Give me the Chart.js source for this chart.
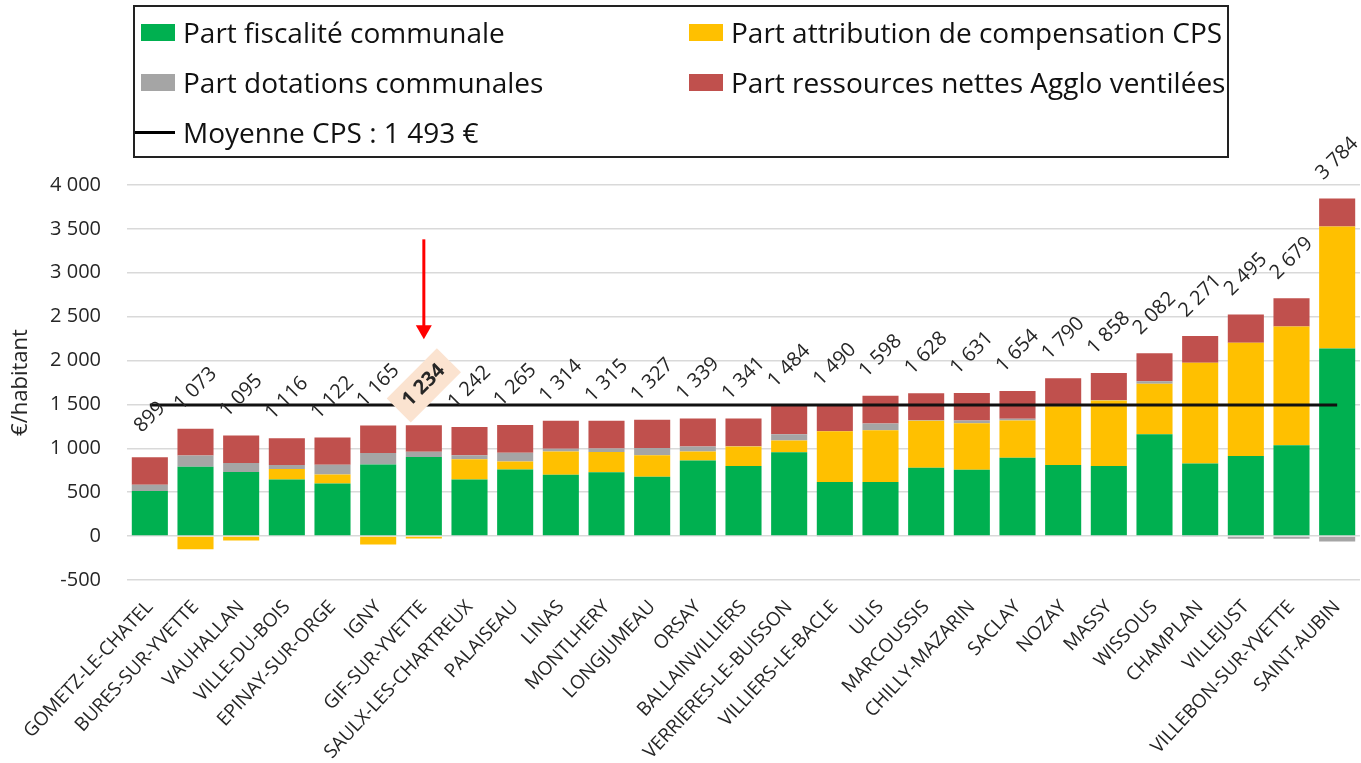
<!DOCTYPE html>
<html>
<head>
<meta charset="utf-8">
<script src="https://cdn.jsdelivr.net/npm/chart.js@4"></script>
<style>
  body { margin: 0; background: #fff; }
  #cadre { position: relative; width: 1361px; height: 763px; }
  #cadre canvas { position: absolute; left: 0; top: 0; }
  #legende {
    position: absolute; left: 133px; top: 5px; width: 1092px; height: 149px;
    border: 2px solid #222; box-sizing: content-box;
    display: grid; grid-template-columns: 548px 544px; grid-auto-rows: 50px;
    padding-top: 0; font-family: "Open Sans", sans-serif; font-size: 28px; color: #111;
  }
  #legende .item { display: flex; align-items: center; padding-left: 6px; white-space: nowrap; }
  #legende .carre { width: 34px; height: 17px; margin-right: 8px; }
  #legende .trait { width: 40px; height: 3px; margin-left: -6px; margin-right: 8px; background: #000; }
</style>
</head>
<body>
<div id="cadre">
  <canvas id="graphique"></canvas>
  <div id="legende"></div>
</div>
<script>
// communes, classées par ressources totales
const communes = ['GOMETZ-LE-CHATEL', 'BURES-SUR-YVETTE', 'VAUHALLAN', 'VILLE-DU-BOIS', 'EPINAY-SUR-ORGE',
  'IGNY', 'GIF-SUR-YVETTE', 'SAULX-LES-CHARTREUX', 'PALAISEAU', 'LINAS', 'MONTLHERY', 'LONGJUMEAU',
  'ORSAY', 'BALLAINVILLIERS', 'VERRIERES-LE-BUISSON', 'VILLIERS-LE-BACLE', 'ULIS', 'MARCOUSSIS',
  'CHILLY-MAZARIN', 'SACLAY', 'NOZAY', 'MASSY', 'WISSOUS', 'CHAMPLAN', 'VILLEJUST',
  'VILLEBON-SUR-YVETTE', 'SAINT-AUBIN'];

// €/habitant
const fiscalite = [515, 790, 731, 645, 600, 815, 900, 645, 760, 700, 727, 675, 860, 800, 955, 617, 617, 780, 757, 894, 810, 800, 1160, 826, 912, 1034, 2136];
const attribution = [0, -150, -50, 120, 103, -95, -28, 232, 90, 265, 230, 245, 105, 220, 135, 578, 590, 535, 530, 424, 670, 745, 576, 1150, 1292, 1355, 1390];
const dotations = [70, 128, 102, 45, 109, 133, 62, 45, 100, 30, 40, 85, 55, 5, 70, -10, 75, 5, 30, 18, -8, 5, 28, -10, -30, -30, -62];
const ressources = [314, 305, 312, 306, 310, 312, 300, 320, 315, 319, 318, 322, 319, 316, 324, 305, 316, 308, 314, 318, 318, 308, 318, 305, 321, 320, 320];
const totaux = [899, 1073, 1095, 1116, 1122, 1165, 1234, 1242, 1265, 1314, 1315, 1327, 1339, 1341, 1484, 1490, 1598, 1628, 1631, 1654, 1790, 1858, 2082, 2271, 2495, 2679, 3784];
const moyenne = 1493;
const communeMiseEnAvant = 'GIF-SUR-YVETTE';

const police = '"Open Sans", sans-serif';

function formatNombre(v) {
    return String(v).replace(/\B(?=(\d{3})+(?!\d))/g, ' ');
}

// étiquettes des totaux + flèche rouge
const etiquettesTotaux = {
    id: 'etiquettesTotaux',
    afterDatasetsDraw(chart) {
        const ctx = chart.ctx;
        const y = chart.scales.y;
        const meta = chart.getDatasetMeta(0);
        ctx.save();
        for (let i = 0; i < totaux.length; i++) {
            // haut de la pile positive
            let haut = 0;
            for (let d = 0; d < 4; d++) {
                const v = chart.data.datasets[d].data[i];
                if (v > 0) haut += v;
            }
            const px = meta.data[i].x;
            const py = y.getPixelForValue(haut) - 40;
            const texte = formatNombre(totaux[i]);
            const enAvant = communes[i] === communeMiseEnAvant;
            ctx.save();
            ctx.translate(px, py);
            ctx.rotate(-Math.PI / 4);
            ctx.font = (enAvant ? 'bold ' : '') + '20px ' + police;
            ctx.textAlign = 'center';
            ctx.textBaseline = 'middle';
            if (enAvant) {
                const w = ctx.measureText(texte).width;
                ctx.fillStyle = '#fbe3d0';
                ctx.fillRect(-w / 2 - 10, -17, w + 20, 34);
            }
            ctx.fillStyle = '#262626';
            ctx.fillText(texte, 0, 0);
            ctx.restore();
            if (enAvant) {
                const pointe = py - 46;
                const depart = pointe - 100;
                ctx.strokeStyle = '#ff0000';
                ctx.fillStyle = '#ff0000';
                ctx.lineWidth = 3;
                ctx.beginPath();
                ctx.moveTo(px, depart);
                ctx.lineTo(px, pointe - 10);
                ctx.stroke();
                ctx.beginPath();
                ctx.moveTo(px - 8, pointe - 14);
                ctx.lineTo(px + 8, pointe - 14);
                ctx.lineTo(px, pointe);
                ctx.closePath();
                ctx.fill();
            }
        }
        ctx.restore();
    }
};

const fondBlanc = {
    id: 'fondBlanc',
    beforeDraw(chart) {
        const ctx = chart.ctx;
        ctx.save();
        ctx.fillStyle = '#fff';
        ctx.fillRect(0, 0, chart.width, chart.height);
        ctx.restore();
    }
};

const barre = { barPercentage: 0.79, categoryPercentage: 1, order: 1 };

const data = {
    labels: communes,
    datasets: [
        { ...barre, label: 'Part fiscalité communale', data: fiscalite, backgroundColor: '#00b050' },
        { ...barre, label: 'Part attribution de compensation CPS', data: attribution, backgroundColor: '#ffc000' },
        { ...barre, label: 'Part dotations communales', data: dotations, backgroundColor: '#a5a5a5' },
        { ...barre, label: 'Part ressources nettes Agglo ventilées', data: ressources, backgroundColor: '#c0504d' },
        {
            type: 'line',
            label: 'Moyenne CPS : 1 493 €',
            data: Array(communes.length).fill(moyenne),
            borderColor: '#111',
            borderWidth: 3,
            pointRadius: 0,
            fill: false,
            order: 0
        }
    ]
};

const config = {
    type: 'bar',
    data: data,
    options: {
        responsive: false,
        animation: false,
        layout: { padding: { top: 185, right: 1, left: 0, bottom: 0 } },
        plugins: {
            legend: { display: false },
            tooltip: { enabled: false }
        },
        scales: {
            x: {
                stacked: true,
                grid: { display: false },
                border: { display: false },
                ticks: {
                    autoSkip: false,
                    minRotation: 47,
                    maxRotation: 47,
                    padding: 8,
                    color: '#262626',
                    font: { family: police, size: 19 }
                },
                afterFit(scale) {
                    scale.height = 183;
                    scale.paddingLeft = 0;
                    scale.paddingRight = 0;
                }
            },
            y: {
                stacked: true,
                min: -500,
                max: 4000,
                border: { display: false },
                grid: { color: '#d9d9d9', lineWidth: 1.5, drawTicks: false },
                ticks: {
                    stepSize: 500,
                    padding: 26,
                    color: '#262626',
                    font: { family: police, size: 20 },
                    callback: v => formatNombre(v)
                },
                title: {
                    display: true,
                    text: '€/habitant',
                    color: '#262626',
                    font: { family: police, size: 22 },
                    padding: { top: 8, bottom: 0 }
                },
                afterFit(scale) {
                    scale.width = 127;
                }
            }
        }
    },
    plugins: [fondBlanc, etiquettesTotaux]
};

const canva = document.getElementById('graphique');
canva.width = 1361;
canva.height = 763;
const graphique = new Chart(canva, config);

// légende en deux colonnes, dans l'ordre de la référence
const legende = document.getElementById('legende');
[0, 1, 2, 3, 4].forEach(d => {
    const ds = data.datasets[d];
    const item = document.createElement('div');
    item.className = 'item';
    const marque = document.createElement('span');
    if (ds.type === 'line') {
        marque.className = 'trait';
    } else {
        marque.className = 'carre';
        marque.style.background = ds.backgroundColor;
    }
    item.appendChild(marque);
    item.appendChild(document.createTextNode(ds.label));
    legende.appendChild(item);
});
</script>
</body>
</html>
